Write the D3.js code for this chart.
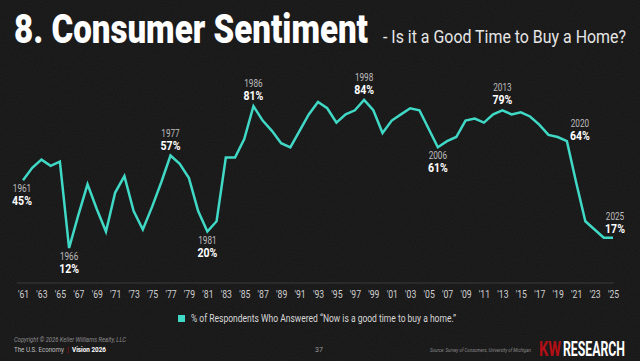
<!DOCTYPE html>
<html>
<head>
<meta charset="utf-8">
<script src="https://cdn.jsdelivr.net/npm/d3@7"></script>
<style>
  html, body { margin: 0; padding: 0; background: #161516; }
  svg { display: block; }
  text { font-family: Roboto, "Liberation Sans", sans-serif; }
</style>
</head>
<body>
<figure id="chart" style="margin:0"></figure>
<script>
// Share of respondents saying now is a good time to buy a home
const years = d3.range(1961, 2026);
const values = [
  45, 51, 55, 52, 54, 12, 28, 43, 31, 20,
  39, 47, 30, 21, 32, 44, 57, 53, 46, 30,
  20, 25, 56, 56, 65, 81, 74, 69, 63, 61,
  69, 77, 83, 80, 73, 77, 79, 84, 79, 68,
  74, 77, 80, 79, 70, 61, 64, 66, 74, 75,
  73, 77, 79, 77, 78, 76, 72, 67, 66, 64,
  44, 25, 21, 17, 17
];
const tickYears = d3.range(1961, 2026, 2);
const calloutYears = [1961, 1966, 1977, 1981, 1986, 1998, 2006, 2013, 2020, 2025];
const calloutBelow = [1961, 1966, 1981, 2006];

const width = 640;
const height = 361;
const teal = '#3fd9c6';

const data = years.map((yr, i) => ({ year: yr, value: values[i] }));

// squeeze a text horizontally to fake a condensed face
function condense(sel, k) {
  sel.each(function () {
    const w = this.getComputedTextLength();
    d3.select(this)
      .attr('textLength', w * k)
      .attr('lengthAdjust', 'spacingAndGlyphs');
  });
}
function fit(sel, w) {
  sel.attr('textLength', w).attr('lengthAdjust', 'spacingAndGlyphs');
}

const svg = d3.select('figure#chart')
  .append('svg')
  .attr('width', width)
  .attr('height', height);

// grainy dark background
const defs = svg.append('defs');
const noise = defs.append('filter').attr('id', 'grain');
noise.append('feTurbulence')
  .attr('type', 'fractalNoise')
  .attr('baseFrequency', 0.9)
  .attr('numOctaves', 2)
  .attr('seed', 3);
noise.append('feColorMatrix')
  .attr('type', 'matrix')
  .attr('values', '0 0 0 0 1  0 0 0 0 1  0 0 0 0 1  0 0 0 0.05 0');

svg.append('rect').attr('width', width).attr('height', height).attr('fill', '#161516');
svg.append('rect').attr('width', width).attr('height', height).attr('filter', 'url(#grain)');

// title
svg.append('text')
  .attr('x', 14).attr('y', 43)
  .attr('font-size', 41)
  .attr('font-weight', 900)
  .attr('fill', '#ffffff')
  .text('8. Consumer Sentiment')
  .call(fit, 354);
svg.append('text')
  .attr('x', 383).attr('y', 43)
  .attr('font-size', 18)
  .attr('fill', '#e6e6e6')
  .text('- Is it a Good Time to Buy a Home?')
  .call(fit, 243);

const x = d3.scaleLinear().domain([1961, 2025]).range([23, 613]);
const y = d3.scaleLinear().domain([0, 100]).range([272.7, 67.1]);

// x axis
svg.append('line')
  .attr('x1', 17).attr('x2', 614)
  .attr('y1', 283).attr('y2', 283)
  .attr('stroke', '#3a3a3a')
  .attr('stroke-width', 1);

const xAxis = svg.append('g')
  .attr('transform', 'translate(0,287)')
  .call(d3.axisBottom(x)
    .tickValues(tickYears)
    .tickSize(0)
    .tickFormat(d => "'" + String(d).slice(2)));
xAxis.select('.domain').remove();
xAxis.selectAll('text')
  .attr('fill', '#d0d0d0')
  .attr('font-size', 11.5)
  .attr('font-family', 'Roboto, sans-serif')
  .call(condense, 0.75);

// line
const line = d3.line()
  .x(d => x(d.year))
  .y(d => y(d.value));

svg.append('path')
  .datum(data)
  .attr('d', line)
  .attr('fill', 'none')
  .attr('stroke', teal)
  .attr('stroke-width', 2.5)
  .attr('stroke-linejoin', 'miter');

// callouts: most sit above or below their point, the last two to the upper right
function calloutShift(d) {
  if (d.year === 2020) return [13, -2];
  if (d.year === 2025) return [2, -6];
  if (d.year === 1961) return [-1, 12];
  return [0, calloutBelow.includes(d.year) ? 12 : -7];
}

const callouts = svg.selectAll('.callout')
  .data(data.filter(d => calloutYears.includes(d.year)))
  .enter()
  .append('g')
  .attr('class', 'callout')
  .attr('transform', d => {
    const [dx, dy] = calloutShift(d);
    return 'translate(' + (x(d.year) + dx) + ',' + (y(d.value) + dy) + ')';
  });

callouts.append('text')
  .attr('text-anchor', 'middle')
  .attr('y', d => calloutBelow.includes(d.year) ? 0 : -12)
  .attr('font-size', 10.5)
  .attr('fill', '#bdbdbd')
  .text(d => d.year)
  .call(condense, 0.78);

callouts.append('text')
  .attr('text-anchor', 'middle')
  .attr('y', d => calloutBelow.includes(d.year) ? 13 : 1)
  .attr('font-size', 13.5)
  .attr('font-weight', 'bold')
  .attr('fill', '#ffffff')
  .text(d => d.value + '%')
  .call(condense, 0.78);

// legend
svg.append('rect')
  .attr('x', 178).attr('y', 315)
  .attr('width', 7).attr('height', 7)
  .attr('fill', teal);
svg.append('text')
  .attr('x', 191).attr('y', 322)
  .attr('font-size', 10)
  .attr('fill', '#d8d8d8')
  .text('% of Respondents Who Answered \u201CNow is a good time to buy a home.\u201D')
  .call(fit, 265);

// footer
svg.append('text')
  .attr('x', 14).attr('y', 342)
  .attr('font-size', 7)
  .attr('font-style', 'italic')
  .attr('fill', '#8a8a8a')
  .text('Copyright \u00A9 2026 Keller Williams Realty, LLC')
  .call(fit, 112);

svg.append('text')
  .attr('x', 14).attr('y', 352)
  .attr('font-size', 7.5)
  .attr('fill', '#bdbdbd')
  .text('The U.S. Economy')
  .call(fit, 50);
svg.append('text')
  .attr('x', 67).attr('y', 352)
  .attr('font-size', 7.5)
  .attr('fill', '#b5121b')
  .text('|');
svg.append('text')
  .attr('x', 72).attr('y', 352)
  .attr('font-size', 7.5)
  .attr('font-weight', 'bold')
  .attr('fill', '#ffffff')
  .text('Vision 2026')
  .call(fit, 34);

svg.append('text')
  .attr('x', 319).attr('y', 352)
  .attr('text-anchor', 'middle')
  .attr('font-size', 7)
  .attr('fill', '#9a9a9a')
  .text('37');

svg.append('text')
  .attr('x', 430).attr('y', 352)
  .attr('font-size', 6)
  .attr('font-style', 'italic')
  .attr('fill', '#8a8a8a')
  .text('Source: Survey of Consumers, University of Michigan')
  .call(fit, 101);

svg.append('text')
  .attr('x', 539).attr('y', 356)
  .attr('font-size', 20)
  .attr('font-weight', 'bold')
  .attr('fill', '#b40f14')
  .text('KW')
  .call(fit, 22);
svg.append('text')
  .attr('x', 563).attr('y', 356)
  .attr('font-size', 20)
  .attr('font-weight', 'bold')
  .attr('fill', '#ffffff')
  .text('RESEARCH')
  .call(fit, 62);
</script>
</body>
</html>
